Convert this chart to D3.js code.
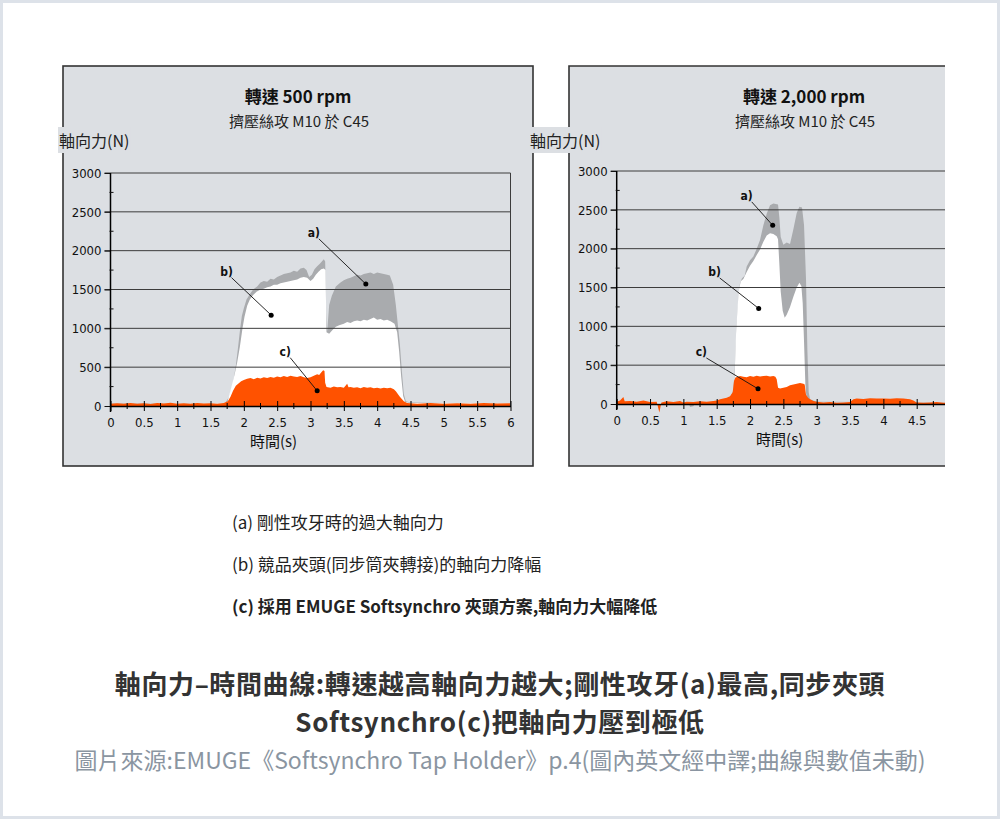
<!DOCTYPE html>
<html>
<head>
<meta charset="utf-8">
<script src="https://cdn.jsdelivr.net/npm/d3@7/dist/d3.min.js"></script>
<style>
  html, body { margin: 0; padding: 0; background: #fff; }
  svg { display: block; }
</style>
</head>
<body>
<svg id="chart" width="1000" height="820"></svg>
<script>
// time (s), axial force (N)
var a500 = [[0,35],[0.5,40],[1,38],[1.5,40],[1.72,40],[1.78,120],[1.84,300],[1.88,520],[1.91,730],[1.94,960],[1.97,1160],[2.0,1260],[2.04,1370],[2.09,1440],[2.14,1500],[2.2,1540],[2.25,1590],[2.3,1610],[2.35,1600],[2.4,1640],[2.45,1630],[2.5,1660],[2.55,1680],[2.6,1700],[2.65,1710],[2.7,1720],[2.75,1740],[2.8,1730],[2.85,1770],[2.9,1780],[2.94,1750],[2.98,1660],[3.02,1690],[3.06,1760],[3.1,1800],[3.14,1830],[3.18,1870],[3.2,1890],[3.22,1860],[3.235,1200],[3.25,960],[3.28,1300],[3.32,1420],[3.38,1540],[3.45,1590],[3.5,1620],[3.55,1640],[3.6,1650],[3.65,1670],[3.7,1690],[3.75,1680],[3.8,1700],[3.85,1710],[3.9,1720],[3.95,1700],[4.0,1720],[4.05,1710],[4.1,1700],[4.15,1690],[4.19,1680],[4.24,1560],[4.28,1300],[4.31,1050],[4.34,800],[4.37,450],[4.4,150],[4.43,60],[4.5,45],[5,40],[5.5,40],[6,40]];
var b500 = [[0,30],[1.75,35],[1.79,170],[1.83,300],[1.86,400],[1.9,560],[1.94,760],[1.98,1000],[2.01,1150],[2.05,1290],[2.09,1370],[2.14,1430],[2.19,1470],[2.25,1500],[2.3,1510],[2.35,1530],[2.4,1540],[2.45,1560],[2.5,1560],[2.55,1580],[2.6,1590],[2.65,1600],[2.7,1610],[2.75,1620],[2.8,1630],[2.85,1650],[2.9,1660],[2.95,1650],[3.0,1610],[3.04,1640],[3.08,1690],[3.12,1730],[3.16,1760],[3.2,1770],[3.225,1750],[3.24,950],[3.28,930],[3.33,980],[3.38,1020],[3.43,1040],[3.5,1060],[3.55,1080],[3.6,1070],[3.65,1090],[3.7,1100],[3.75,1090],[3.8,1110],[3.85,1100],[3.9,1120],[3.95,1140],[4.0,1110],[4.05,1120],[4.1,1100],[4.15,1110],[4.2,1090],[4.26,1060],[4.3,950],[4.33,700],[4.36,380],[4.39,130],[4.42,50],[4.5,40],[6,35]];
var c500 = [[0,30],[0.1,35],[0.2,28],[0.3,40],[0.4,30],[0.5,36],[0.6,27],[0.7,38],[0.8,32],[0.9,42],[1.0,30],[1.1,35],[1.2,28],[1.3,40],[1.4,33],[1.5,37],[1.6,30],[1.7,40],[1.76,60],[1.8,120],[1.84,200],[1.88,260],[1.92,290],[1.96,320],[2.0,335],[2.05,350],[2.1,360],[2.15,345],[2.2,365],[2.25,355],[2.3,370],[2.35,360],[2.4,375],[2.45,365],[2.5,380],[2.55,370],[2.6,385],[2.65,375],[2.7,390],[2.75,380],[2.8,375],[2.85,385],[2.9,370],[2.95,360],[3.0,370],[3.05,390],[3.1,410],[3.13,400],[3.16,430],[3.19,460],[3.21,450],[3.22,300],[3.24,245],[3.3,235],[3.35,250],[3.4,240],[3.45,245],[3.5,235],[3.55,285],[3.57,240],[3.6,245],[3.65,235],[3.7,240],[3.75,230],[3.8,245],[3.85,235],[3.9,240],[3.95,230],[4.0,235],[4.05,225],[4.1,235],[4.15,230],[4.2,235],[4.25,215],[4.28,190],[4.31,155],[4.34,120],[4.37,90],[4.4,60],[4.45,40],[4.5,35],[4.6,30],[4.8,38],[5.0,28],[5.2,36],[5.4,30],[5.6,40],[5.8,32],[6.0,35]];

var a2000 = [[0,20],[0.5,25],[1.0,15],[1.08,15],[1.1,-40],[1.15,-30],[1.18,20],[1.5,30],[1.7,60],[1.75,180],[1.78,600],[1.8,1040],[1.83,1400],[1.85,1560],[1.88,1620],[1.92,1650],[1.95,1770],[2.0,1850],[2.05,1900],[2.1,2000],[2.15,2110],[2.2,2300],[2.25,2450],[2.3,2560],[2.35,2580],[2.42,2570],[2.44,2400],[2.46,2150],[2.5,2050],[2.55,2080],[2.6,2060],[2.65,2250],[2.7,2460],[2.74,2540],[2.78,2530],[2.81,2300],[2.84,1600],[2.86,700],[2.88,150],[2.9,60],[3.0,30],[4,25],[5,20],[6,20]];
var b2000 = [[0,15],[1.7,30],[1.75,100],[1.77,400],[1.79,900],[1.81,1200],[1.83,1450],[1.86,1580],[1.9,1610],[1.95,1700],[2.0,1780],[2.05,1840],[2.1,1920],[2.15,1990],[2.2,2090],[2.25,2170],[2.3,2200],[2.35,2190],[2.4,2160],[2.42,2120],[2.44,1800],[2.46,1450],[2.49,1200],[2.52,1110],[2.55,1150],[2.6,1250],[2.65,1380],[2.7,1500],[2.74,1560],[2.77,1520],[2.79,1300],[2.81,800],[2.83,250],[2.85,40],[3,20],[6,15]];
var c2000 = [[0,30],[0.05,45],[0.1,90],[0.12,35],[0.2,40],[0.3,30],[0.4,45],[0.5,25],[0.6,30],[0.64,-110],[0.67,20],[0.75,35],[0.85,25],[0.95,40],[1.0,20],[1.05,30],[1.15,25],[1.25,35],[1.35,30],[1.45,40],[1.5,45],[1.55,60],[1.6,70],[1.65,80],[1.7,100],[1.74,150],[1.76,300],[1.78,340],[1.85,360],[1.9,350],[1.95,345],[2.0,360],[2.05,350],[2.1,365],[2.15,355],[2.2,360],[2.25,365],[2.3,355],[2.35,360],[2.38,350],[2.4,320],[2.42,210],[2.45,200],[2.5,210],[2.55,220],[2.6,240],[2.65,250],[2.7,260],[2.75,270],[2.8,260],[2.82,250],[2.84,120],[2.87,80],[2.9,60],[2.95,40],[3.0,30],[3.1,20],[3.2,25],[3.3,15],[3.4,20],[3.5,25],[3.55,60],[3.6,70],[3.7,65],[3.8,75],[3.9,70],[4.0,72],[4.1,68],[4.2,75],[4.3,70],[4.4,60],[4.45,45],[4.5,20],[4.6,15],[4.7,20],[4.8,25],[4.9,15],[5.0,20],[5.2,25],[6,20]];

// callouts: label, label position [t, N], dot position [t, N]
var notes500 = [["a)", [3.05, 2230], [3.83, 1570]], ["b)", [1.74, 1730], [2.41, 1170]], ["c)", [2.62, 700], [3.10, 195]]];
var notes2000 = [["a)", [1.95, 2680], [2.34, 2300]], ["b)", [1.47, 1700], [2.13, 1230]], ["c)", [1.27, 670], [2.12, 195]]];

var xMajor = [0, 0.5, 1, 1.5, 2, 2.5, 3, 3.5, 4, 4.5, 5, 5.5, 6];
var xMinor = [0.25, 0.75, 1.25, 1.75, 2.25, 2.75, 3.25, 3.75, 4.25, 4.75, 5.25, 5.75];
var yMajor = [0, 500, 1000, 1500, 2000, 2500, 3000];
var yMinor = [250, 750, 1250, 1750, 2250, 2750];

var legendLines = ["(a) 剛性攻牙時的過大軸向力", "(b) 競品夾頭(同步筒夾轉接)的軸向力降幅", "(c) 採用 EMUGE Softsynchro 夾頭方案,軸向力大幅降低"];
var titleLines = ["軸向力–時間曲線:轉速越高軸向力越大;剛性攻牙(a)最高,同步夾頭", "Softsynchro(c)把軸向力壓到極低"];
var sourceLine = "圖片來源:EMUGE《Softsynchro Tap Holder》p.4(圖內英文經中譯;曲線與數值未動)";

var CJK = '"Noto Sans CJK TC", "Noto Sans", sans-serif';
var NARROW = '"Liberation Sans Narrow", "DejaVu Sans Condensed", sans-serif';

var svg = d3.select("#chart");

// card
svg.append("rect").attr("x", 1.5).attr("y", 1.5).attr("width", 997).attr("height", 816)
   .attr("fill", "#fff").attr("stroke", "#dde2e9").attr("stroke-width", 3);

function drawPanel(opts) {
  var W = 470, H = 400, pw = 400, ph = 233;
  var defs = svg.append("defs");
  defs.append("clipPath").attr("id", opts.id)
      .append("rect").attr("x", -5).attr("y", -5).attr("width", opts.clipW).attr("height", H + 10);

  var g = svg.append("g").attr("transform", "translate(" + opts.x + "," + opts.y + ")");
  var panel = g.append("g").attr("clip-path", "url(#" + opts.id + ")");

  panel.append("rect").attr("width", W).attr("height", H).attr("fill", "#dcdfe3");
  if (opts.full) {
    panel.append("rect").attr("width", W).attr("height", H).attr("fill", "none")
         .attr("stroke", "#333").attr("stroke-width", 1.6);
  } else {
    panel.append("path").attr("d", "M" + W + ",0H0V" + H + "H" + W).attr("fill", "none")
         .attr("stroke", "#333").attr("stroke-width", 1.6);
  }

  panel.append("text").attr("x", 235).attr("y", 37).attr("text-anchor", "middle")
       .style("font-family", CJK).style("font-weight", 700).style("font-size", "17px").attr("fill", "#111")
       .text(opts.title);
  panel.append("text").attr("x", 236).attr("y", 61).attr("text-anchor", "middle")
       .style("font-family", CJK).style("font-size", "15px").attr("fill", "#222")
       .text("擠壓絲攻 M10 於 C45");

  var x = d3.scaleLinear().domain([0, 6]).range([0, pw]);
  var y = d3.scaleLinear().domain([0, 3000]).range([ph, 0]);

  var plot = panel.append("g").attr("transform", "translate(" + opts.px + "," + opts.py + ")");

  var area = d3.area().x(function(d) { return x(d[0]); }).y0(y(0)).y1(function(d) { return y(d[1]); });
  plot.append("path").datum(opts.a).attr("d", area).attr("fill", "#a9abae");
  plot.append("path").datum(opts.b).attr("d", area).attr("fill", "#ffffff");
  plot.append("path").datum(opts.c).attr("d", area).attr("fill", "#ff5200");

  // grid lines
  plot.selectAll(".grid").data(yMajor.slice(1)).enter().append("line")
      .attr("x1", -6).attr("x2", pw).attr("y1", function(d) { return y(d); }).attr("y2", function(d) { return y(d); })
      .attr("stroke", "#3c3c3c").attr("stroke-width", 1);
  plot.append("line").attr("x1", pw).attr("x2", pw).attr("y1", y(3000)).attr("y2", y(0))
      .attr("stroke", "#3c3c3c").attr("stroke-width", 1);

  // y axis
  var yAxis = d3.axisLeft(y).tickValues(yMajor).tickSize(6).tickSizeOuter(0).tickPadding(3)
                .tickFormat(d3.format("d"));
  var gy = plot.append("g").call(yAxis);
  gy.select(".domain").remove();
  gy.selectAll(".tick line").attr("stroke", "#111");
  gy.selectAll(".tick text").style("font-family", NARROW).style("font-size", "13px").attr("fill", "#111");
  plot.append("line").attr("x1", 0).attr("x2", 0).attr("y1", y(3000)).attr("y2", y(0) + 6)
      .attr("stroke", "#000").attr("stroke-width", 1.5);
  plot.selectAll(".ymin").data(yMinor).enter().append("line")
      .attr("x1", -1).attr("x2", 3).attr("y1", function(d) { return y(d); }).attr("y2", function(d) { return y(d); })
      .attr("stroke", "#111");

  // x axis
  var xAxis = d3.axisBottom(x).tickValues(xMajor).tickSize(5).tickSizeOuter(0).tickPadding(7)
                .tickFormat(function(d) { return d <= opts.maxLabel ? String(d) : ""; });
  var gx = plot.append("g").attr("transform", "translate(0," + y(0) + ")").call(xAxis);
  gx.select(".domain").attr("stroke", "#000").attr("stroke-width", 1.5);
  gx.selectAll(".tick line").attr("y1", -5).attr("y2", 5).attr("stroke", "#000");
  gx.selectAll(".tick text").style("font-family", NARROW).style("font-size", "13px").attr("fill", "#111");
  gx.selectAll(".xmin").data(xMinor).enter().append("line")
    .attr("x1", function(d) { return x(d); }).attr("x2", function(d) { return x(d); })
    .attr("y1", -3).attr("y2", 3).attr("stroke", "#000");

  plot.append("text").attr("x", 163).attr("y", y(0) + 41).attr("text-anchor", "middle")
      .style("font-family", CJK).style("font-size", "15px").attr("fill", "#111").text("時間(s)");

  // callouts
  opts.notes.forEach(function(n) {
    var lx = x(n[1][0]), ly = y(n[1][1]), dx = x(n[2][0]), dy = y(n[2][1]);
    plot.append("text").attr("x", lx).attr("y", ly + 4).attr("text-anchor", "middle")
        .style("font-family", NARROW).style("font-weight", 700).style("font-size", "12px").attr("fill", "#111").text(n[0]);
    plot.append("line").attr("x1", lx + 5).attr("y1", ly + 6).attr("x2", dx).attr("y2", dy)
        .attr("stroke", "#111").attr("stroke-width", 0.9);
    plot.append("circle").attr("cx", dx).attr("cy", dy).attr("r", 2.5).attr("fill", "#000");
  });

  // y axis title sitting over the panel border
  var yl = g.append("g").attr("transform", "translate(" + opts.labelX + ",81)");
  var t = yl.append("text").attr("x", 0).attr("y", 0)
      .style("font-family", CJK).style("font-size", "16px").attr("fill", "#222").text("軸向力(N)");
  var bb = t.node().getBBox();
  yl.insert("rect", "text").attr("x", bb.x - 1).attr("y", bb.y - 1).attr("width", bb.width + 2).attr("height", bb.height + 2)
    .attr("fill", "#dcdfe3");
}

drawPanel({id: "clipL", x: 63, y: 66, clipW: 480, full: true, title: "轉速 500 rpm", maxLabel: 6,
           px: 47.5, py: 107, a: a500, b: b500, c: c500, notes: notes500, labelX: -4});
drawPanel({id: "clipR", x: 569, y: 66, clipW: 381, full: false, title: "轉速 2,000 rpm", maxLabel: 4.5,
           px: 47.7, py: 105, a: a2000, b: b2000, c: c2000, notes: notes2000, labelX: -39});

// legend lines
svg.selectAll(".legend").data(legendLines).enter().append("text")
   .attr("x", 232).attr("y", function(d, i) { return 529 + i * 42; })
   .style("font-family", CJK).style("font-size", "17px")
   .style("font-weight", function(d, i) { return i === 2 ? 700 : 400; })
   .attr("fill", "#222").text(function(d) { return d; });

svg.selectAll(".title").data(titleLines).enter().append("text")
   .attr("x", 500).attr("y", function(d, i) { return 694 + i * 38; }).attr("text-anchor", "middle")
   .style("font-family", CJK).style("font-size", "26px").style("font-weight", 700)
   .style("letter-spacing", "0.6px")
   .attr("fill", "#333").text(function(d) { return d; });

svg.append("text").attr("x", 500).attr("y", 769).attr("text-anchor", "middle")
   .style("font-family", CJK).style("font-size", "23px").attr("fill", "#8a95a1").text(sourceLine);
</script>
</body>
</html>
